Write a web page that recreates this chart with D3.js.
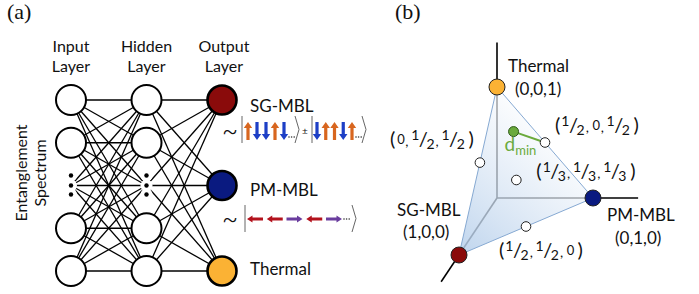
<!doctype html>
<html lang="en">
<head>
<meta charset="UTF-8">
<title>Neural network phase classification</title>
<style>
    body { margin: 0; background: #fff; }
    svg { display: block; }
    .sans { font-family: Lato, "Open Sans", sans-serif; fill: #111; }
    .serif { font-family: "Liberation Serif", "DejaVu Serif", serif; fill: #111; }
</style>
</head>
<body>
<div class="chart"></div>
<script src="https://d3js.org/d3.v7.min.js"></script>
<script>
// ---- data ----
const layers = ['Input', 'Hidden', 'Output']
const layerLabels = [['Input', 'Layer'], ['Hidden', 'Layer'], ['Output', 'Layer']]
const rows = ['r0', 'r1', 'dots', 'r3', 'r4']
const outputs = ['SG-MBL', 'PM-MBL', 'Thermal']
const outputRows = ['r0', 'dots', 'r4']
const outputColors = ['#8a0b0b', '#0a1a80', '#fbb234']

// spin states: 1 = up / right, -1 = down / left
const sgKetA = [1, -1, -1, 1, -1]
const sgKetB = [-1, 1, 1, -1, 1]
const pmKet = [-1, -1, 1, -1, 1]

// simplex: barycentric weights in order (SG-MBL, PM-MBL, Thermal)
const vertexLabels = ['(1,0,0)', '(0,1,0)', '(0,0,1)']
const samplePoints = [
    { w: [0.45, 0, 0.55], label: ['0', '1/2', '1/2'] },
    { w: [0, 0.5, 0.5], label: ['1/2', '0', '1/2'] },
    { w: [1/3, 1/3, 1/3], label: ['1/3', '1/3', '1/3'] },
    { w: [0.5, 0.5, 0], label: ['1/2', '1/2', '0'] }
]
const predicted = [0.12, 0.22, 0.66]

// ---- layout ----
const W = 699, H = 294
const svg = d3.select('.chart').append('svg')
    .attr('width', W).attr('height', H)

const color = d3.scaleOrdinal(outputs, outputColors)

// panel labels
svg.append('text').attr('class', 'serif').attr('x', 7).attr('y', 19)
    .style('font-size', '22px').text('(a)')
svg.append('text').attr('class', 'serif').attr('x', 395).attr('y', 19)
    .style('font-size', '22px').text('(b)')

// ===== panel (a) =====
const xLayer = d3.scalePoint(layers, [71, 222])
const yRow = d3.scalePoint(rows, [100, 271])
const nodeR = 15

const nodes = []
layers.forEach(function(l, i) {
    const rr = l === 'Output' ? outputRows : rows
    rr.forEach(function(r, j) {
        nodes.push({ layer: l, li: i, row: r, out: l === 'Output' ? outputs[j] : null })
    })
})

const links = []
nodes.forEach(function(a) {
    nodes.forEach(function(b) {
        if (b.li === a.li + 1) links.push([a, b])
    })
})

const net = svg.append('g')
net.selectAll('line.link').data(links).enter().append('line')
    .attr('class', 'link')
    .attr('x1', d => xLayer(d[0].layer)).attr('y1', d => yRow(d[0].row))
    .attr('x2', d => xLayer(d[1].layer)).attr('y2', d => yRow(d[1].row))
    .attr('stroke', '#000').attr('stroke-width', 1.3)

// ellipsis nodes
const dotNodes = nodes.filter(d => d.row === 'dots' && !d.out)
dotNodes.forEach(function(d) {
    [-10, 0, 9].forEach(function(o) {
        net.append('circle')
            .attr('cx', xLayer(d.layer)).attr('cy', yRow(d.row) + o)
            .attr('r', 6).attr('fill', '#fff')
        net.append('circle')
            .attr('cx', xLayer(d.layer)).attr('cy', yRow(d.row) + o)
            .attr('r', 2.2).attr('fill', '#000')
    })
})

net.selectAll('circle.node').data(nodes.filter(d => d.row !== 'dots' || d.out)).enter()
    .append('circle').attr('class', 'node')
    .attr('cx', d => xLayer(d.layer)).attr('cy', d => yRow(d.row))
    .attr('r', d => d.out ? 14.5 : nodeR)
    .attr('fill', d => d.out ? color(d.out) : '#fff')
    .attr('stroke', '#000').attr('stroke-width', d => d.out ? 2.6 : 2)

// layer titles
layers.forEach(function(l, i) {
    const t = svg.append('text').attr('class', 'sans')
        .attr('text-anchor', 'middle').style('font-size', '16px')
    layerLabels[i].forEach(function(s, k) {
        t.append('tspan').attr('x', xLayer(l) + (i === 2 ? 2 : 0)).attr('y', 52 + k * 20).text(s)
    })
})

// y label
const ylab = svg.append('text').attr('class', 'sans').style('font-size', '16px')
    .attr('text-anchor', 'middle')
    .attr('transform', 'translate(27,173) rotate(-90)')
ylab.append('tspan').attr('x', 0).attr('y', 0).text('Entanglement')
ylab.append('tspan').attr('x', 0).attr('y', 19).text('Spectrum')

// output labels
const outLabelY = { 'SG-MBL': 112, 'PM-MBL': 196, 'Thermal': 275 }
outputs.forEach(function(o) {
    svg.append('text').attr('class', 'sans').attr('x', 250).attr('y', outLabelY[o])
        .style('font-size', '17px').text(o)
})

// kets
const ketGray = '#666'
function tilde(x, y) {
    svg.append('text').attr('class', 'serif').attr('x', x).attr('y', y)
        .style('font-size', '26px').text('~')
}
function ketOpen(x, yTop, yBot) {
    svg.append('line').attr('x1', x).attr('x2', x).attr('y1', yTop).attr('y2', yBot)
        .attr('stroke', ketGray).attr('stroke-width', 1)
}
function ketClose(x, yTop, yBot) {
    const ym = (yTop + yBot) / 2
    svg.append('path').attr('d', d3.line()([[x, yTop], [x + 4, ym], [x, yBot]]))
        .attr('fill', 'none').attr('stroke', ketGray).attr('stroke-width', 1)
}
function ellipsis(x, y) {
    [0, 2.6, 5.2].forEach(function(o) {
        svg.append('circle').attr('cx', x + o).attr('cy', y).attr('r', 0.8).attr('fill', '#333')
    })
}
function vArrow(x, yc, s) {
    // s=1 up, s=-1 down
    const L = 18, hw = 4.2, sw = 1.6, hl = 6
    const tip = yc - s * L / 2, tail = yc + s * L / 2, neck = tip + s * hl
    const pts = [[x - sw, tail], [x - sw, neck], [x - hw, neck], [x, tip], [x + hw, neck], [x + sw, neck], [x + sw, tail]]
    svg.append('path').attr('d', d3.line()(pts) + 'Z')
        .attr('fill', s > 0 ? '#d8661f' : '#1d3fc6')
}
function hArrow(xc, y, s) {
    const L = 16, hw = 3.6, sw = 1.5, hl = 5.5
    const tip = xc + s * L / 2, tail = xc - s * L / 2, neck = tip - s * hl
    const pts = [[tail, y - sw], [neck, y - sw], [neck, y - hw], [tip, y], [neck, y + hw], [neck, y + sw], [tail, y + sw]]
    svg.append('path').attr('d', d3.line()(pts) + 'Z')
        .attr('fill', s < 0 ? '#b3121d' : '#6a3d9e')
}

// SG-MBL ket
tilde(223, 140)
const xSgA = d3.scalePoint(d3.range(sgKetA.length), [248, 284])
ketOpen(242, 116, 143)
sgKetA.forEach((s, i) => vArrow(xSgA(i), 131, s))
ellipsis(289, 137)
ketClose(295, 116, 143)
svg.append('text').attr('class', 'sans').attr('x', 302).attr('y', 134)
    .style('font-size', '10px').text('±')
const xSgB = d3.scalePoint(d3.range(sgKetB.length), [317, 352])
ketOpen(312, 116, 143)
sgKetB.forEach((s, i) => vArrow(xSgB(i), 131, s))
ellipsis(356, 137)
ketClose(362, 116, 143)

// PM-MBL ket
tilde(223, 228)
ketOpen(245, 205, 232)
const xPm = d3.scalePoint(d3.range(pmKet.length), [255, 334])
pmKet.forEach((s, i) => hArrow(xPm(i), 219, s))
ellipsis(344, 219)
ketClose(352, 205, 232)

// ===== panel (b) =====
const origin = [497, 198]
// axis scales: weight -> offset along each axis
const axSG = { x: d3.scaleLinear([0, 1], [0, -38]), y: d3.scaleLinear([0, 1], [0, 57]) }
const axPM = { x: d3.scaleLinear([0, 1], [0, 96]), y: d3.scaleLinear([0, 1], [0, 0]) }
const axTh = { x: d3.scaleLinear([0, 1], [0, 0]), y: d3.scaleLinear([0, 1], [0, -111]) }
const axes = [axSG, axPM, axTh]
function proj(w) {
    let x = origin[0], y = origin[1]
    w.forEach(function(v, i) { x += axes[i].x(v); y += axes[i].y(v) })
    return [x, y]
}
const axisExt = [1.47, 1.47, 1.4]

const pb = svg.append('g')
// axes
axes.forEach(function(a, i) {
    const w = [0, 0, 0]; w[i] = axisExt[i]
    const e = proj(w)
    pb.append('line').attr('x1', origin[0]).attr('y1', origin[1])
        .attr('x2', e[0]).attr('y2', e[1])
        .attr('stroke', '#000').attr('stroke-width', 1.6)
})

// simplex face
const verts = [[1, 0, 0], [0, 1, 0], [0, 0, 1]].map(proj)
const defs = svg.append('defs')
const grad = defs.append('linearGradient').attr('id', 'face')
    .attr('gradientUnits', 'userSpaceOnUse')
    .attr('x1', verts[0][0]).attr('y1', verts[0][1])
    .attr('x2', 565).attr('y2', 130)
grad.append('stop').attr('offset', 0).attr('stop-color', '#b3cdea').attr('stop-opacity', 0.85)
grad.append('stop').attr('offset', 0.55).attr('stop-color', '#dbe7f5').attr('stop-opacity', 0.7)
grad.append('stop').attr('offset', 1).attr('stop-color', '#ffffff').attr('stop-opacity', 0.65)
pb.append('path').attr('d', d3.line()(verts) + 'Z')
    .attr('fill', 'url(#face)').attr('stroke', '#86a9d2').attr('stroke-width', 1)

// d_min segment
const pPred = proj(predicted)
const pNear = proj(samplePoints[1].w)
pb.append('line').attr('x1', pPred[0]).attr('y1', pPred[1])
    .attr('x2', pNear[0]).attr('y2', pNear[1])
    .attr('stroke', '#6aaa3c').attr('stroke-width', 2)

// sample points
pb.selectAll('circle.sample').data(samplePoints).enter().append('circle')
    .attr('class', 'sample')
    .attr('cx', d => proj(d.w)[0]).attr('cy', d => proj(d.w)[1])
    .attr('r', 4.8).attr('fill', '#fff').attr('stroke', '#222').attr('stroke-width', 1)

pb.append('circle').attr('cx', pPred[0]).attr('cy', pPred[1]).attr('r', 5)
    .attr('fill', '#6aaa3c').attr('stroke', '#2f5a1a').attr('stroke-width', 1)

// vertices
pb.selectAll('circle.vertex').data(outputs).enter().append('circle')
    .attr('class', 'vertex')
    .attr('cx', (d, i) => verts[i][0]).attr('cy', (d, i) => verts[i][1])
    .attr('r', 8).attr('fill', d => color(d)).attr('stroke', '#222').attr('stroke-width', 1)

// vertex labels
const vLab = [
    { dx: -62, dy: -39, dx2: -56, dy2: -17 },
    { dx: 14, dy: 23, dx2: 22, dy2: 46 },
    { dx: 11, dy: -15, dx2: 18, dy2: 8 }
]
outputs.forEach(function(o, i) {
    const v = verts[i], L = vLab[i]
    svg.append('text').attr('class', 'sans').attr('x', v[0] + L.dx).attr('y', v[1] + L.dy)
        .style('font-size', '17px').text(o)
    svg.append('text').attr('class', 'sans').attr('x', v[0] + L.dx2).attr('y', v[1] + L.dy2)
        .style('font-size', '17px').text(vertexLabels[i])
})

// fraction labels
const sLab = [
    { dx: -90, dy: -17 },
    { dx: 10, dy: -11 },
    { dx: 20, dy: -2 },
    { dx: -27, dy: 30 }
]
function fracLabel(x, y, parts) {
    const t = svg.append('text').attr('class', 'sans').attr('x', x).attr('y', y)
        .style('font-size', '20px')
    t.append('tspan').text('(')
    parts.forEach(function(p, i) {
        const last = i === parts.length - 1
        const sep = last ? '\u2009' : ',\u2009'
        if (p.indexOf('/') >= 0) {
            const f = p.split('/')
            t.append('tspan').attr('dy', -6).attr('dx', 1).style('font-size', '14px').text(f[0])
            t.append('tspan').attr('dy', 6).attr('dx', -0.5).text('/')
            t.append('tspan').attr('dy', 3).attr('dx', -1.5).style('font-size', '14px').text(f[1])
            t.append('tspan').attr('dy', -3).attr('dx', 1).style('font-size', '14px').text(sep)
        } else {
            t.append('tspan').attr('dx', 2).attr('dy', -2).style('font-size', '13px').text(p)
            t.append('tspan').attr('dy', 2).attr('dx', 0.5).style('font-size', '14px').text(sep)
        }
    })
    t.append('tspan').attr('dx', 1).text(')')
}
samplePoints.forEach(function(s, i) {
    const p = proj(s.w)
    fracLabel(p[0] + sLab[i].dx, p[1] + sLab[i].dy, s.label)
})

// d_min label
const dl = svg.append('text').attr('x', pPred[0] - 9).attr('y', pPred[1] + 19)
    .style('font-family', 'Lato, "Open Sans", sans-serif').style('font-size', '19px')
    .attr('fill', '#6aaa3c')
dl.append('tspan').text('d')
dl.append('tspan').attr('dy', 4).style('font-size', '13px').text('min')
</script>
</body>
</html>
